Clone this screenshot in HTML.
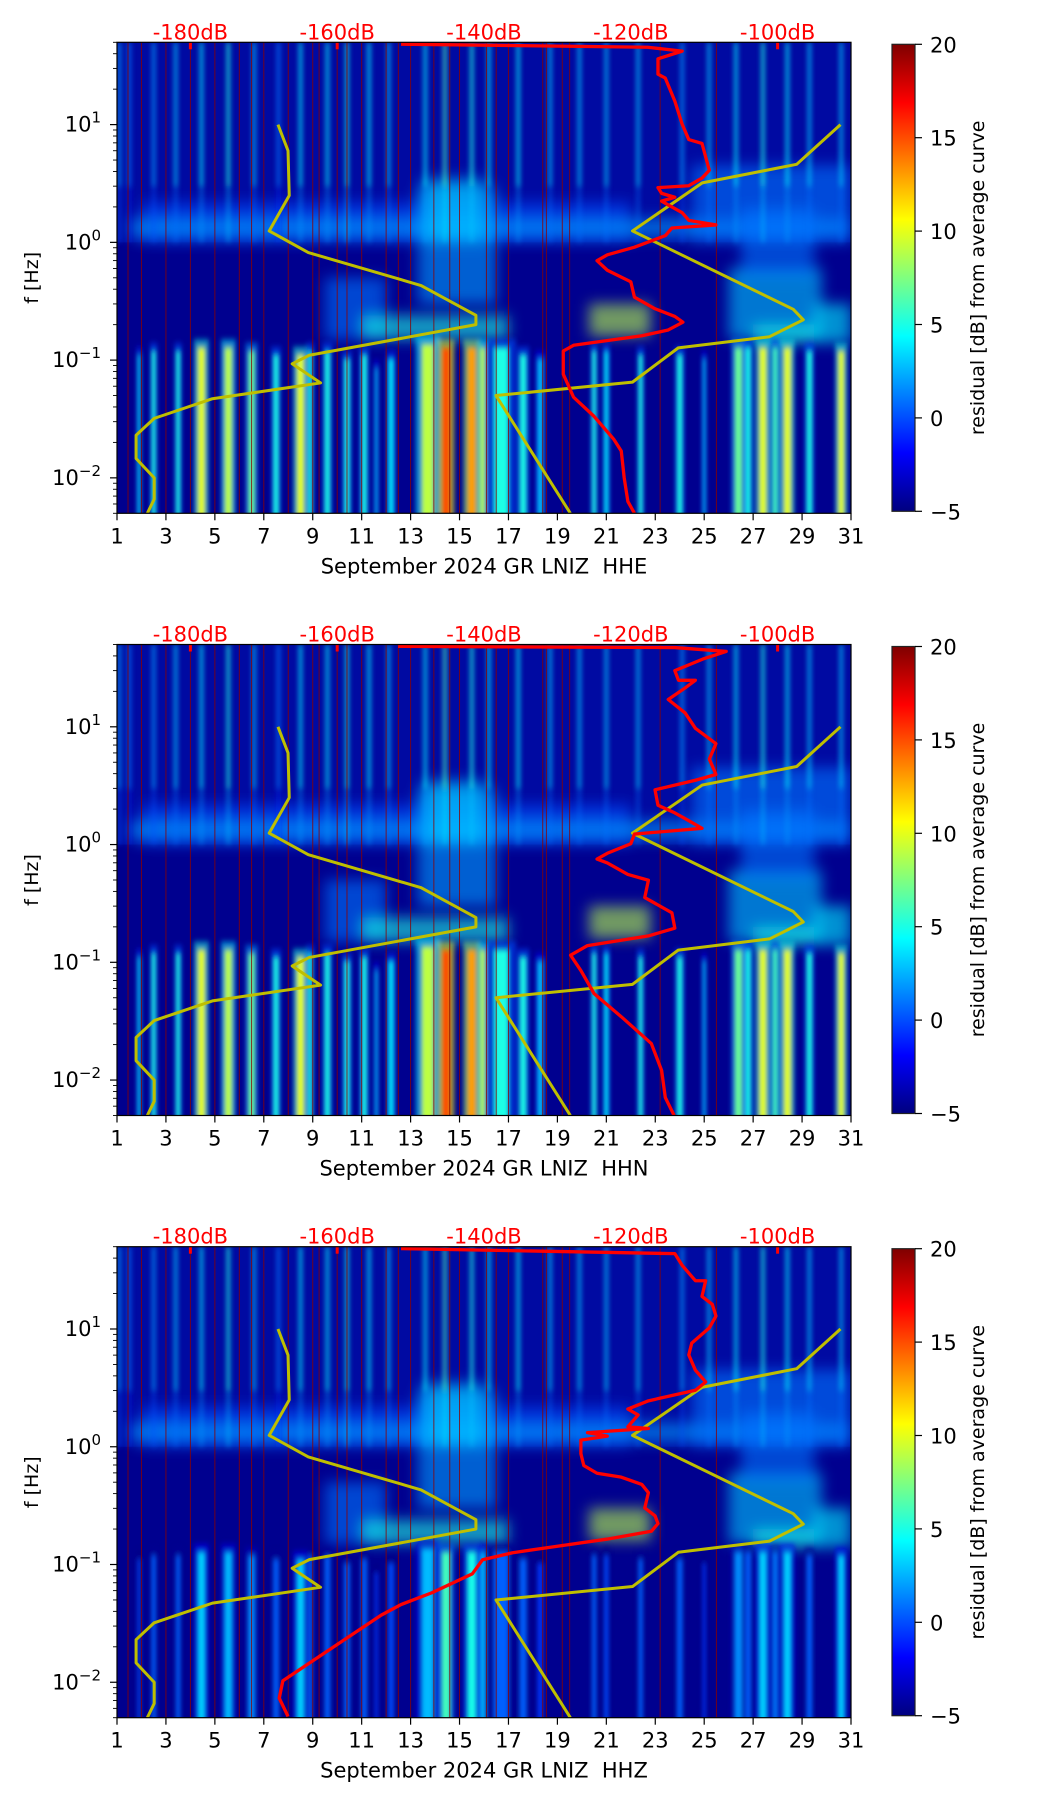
<!DOCTYPE html>
<html><head><meta charset="utf-8">
<style>
html,body{margin:0;padding:0;background:#fff;}
svg text{font-family:"DejaVu Sans","Liberation Sans",sans-serif;}
</style></head>
<body>
<svg id="fig" xmlns="http://www.w3.org/2000/svg" width="1052" height="1806" viewBox="0 0 1052 1806">
<defs>
<linearGradient id="jetg" x1="0" y1="1" x2="0" y2="0">
<stop offset="0" stop-color="#00007f"/><stop offset="0.125" stop-color="#0000ff"/>
<stop offset="0.375" stop-color="#00ffff"/><stop offset="0.625" stop-color="#ffff00"/>
<stop offset="0.875" stop-color="#ff0000"/><stop offset="1" stop-color="#7f0000"/>
</linearGradient>
<filter id="blurS" x="-50%" y="-5%" width="200%" height="110%"><feGaussianBlur stdDeviation="2 3"/></filter>
<filter id="blurB" x="-30%" y="-30%" width="160%" height="160%"><feGaussianBlur stdDeviation="7"/></filter>
</defs>
</svg>
<script>
// ---- data ----
const panelTitles = ["September 2024 GR LNIZ  HHE","September 2024 GR LNIZ  HHN","September 2024 GR LNIZ  HHZ"];
const dayTicks = [1,3,5,7,9,11,13,15,17,19,21,23,25,27,29,31];
const freqTickExp = [1,0,-1,-2];
const dbTicks = [-180,-160,-140,-120,-100];
const cbTicks = [20,15,10,5,0,-5];
const lowModelFreq = [10,6,2.5,1.25,0.82,0.43,0.24,0.2,0.11,0.093,0.064,0.047,0.032,0.023,0.0146,0.01,0.0066,0.005];
const lowModelDay  = [7.58,7.99,8.04,7.22,8.82,13.43,15.67,15.67,8.86,8.16,9.32,4.9,2.52,1.78,1.78,2.52,2.52,2.24];
const highModelFreq = [10,4.6,3.2,1.25,0.27,0.22,0.158,0.127,0.065,0.05,0.005];
const highModelDay  = [30.57,28.78,24.92,22.07,28.64,29.05,27.67,23.94,22.07,16.49,19.53];
const hheLogF = [1.683,1.657,1.624,1.559,1.428,1.395,1.199,1.003,0.873,0.84,0.612,0.546,0.481,0.465,0.416,0.383,0.35,0.318,0.252,0.187,0.148,0.122,0.057,-0.041,-0.106,-0.156,-0.237,-0.335,-0.466,-0.564,-0.629,-0.678,-0.744,-0.793,-0.874,-0.923,-1.119,-1.315,-1.478,-1.674,-1.772,-2.0,-2.2,-2.301];
const hheDb   = [-151.3,-117.7,-113,-116.3,-116.3,-115.3,-114,-113,-112.1,-110.3,-109.3,-110.3,-112.1,-116.3,-115.8,-114,-115.8,-114.9,-113,-112.1,-108.4,-114.4,-115.3,-119.5,-123.2,-124.6,-123.2,-120,-119.5,-116.7,-114,-112.9,-114.9,-118.5,-127.8,-129.2,-129.2,-127.8,-125,-122.3,-121.3,-120.9,-120.4,-119.5];
const hhnLogF = [1.683,1.673,1.64,1.575,1.477,1.395,1.395,1.33,1.232,1.118,0.987,0.857,0.726,0.595,0.546,0.465,0.334,0.269,0.203,0.138,0.089,0.007,-0.074,-0.123,-0.156,-0.254,-0.303,-0.45,-0.58,-0.71,-0.776,-0.858,-0.94,-1.07,-1.266,-1.462,-1.69,-1.919,-2.148,-2.301];
const hhnDb   = [-151.7,-114,-107,-110.2,-114,-113.5,-111.2,-112.6,-114.9,-112.6,-111.2,-108.4,-109.3,-108.4,-111.2,-116.7,-116.3,-114,-112.1,-110.3,-119.5,-120,-123.2,-124.6,-123.2,-120.4,-117.6,-118.1,-114.4,-114,-117.6,-125.9,-128.2,-126.8,-125,-121.3,-117.2,-115.8,-115.3,-114.1];
const hhzLogF = [1.683,1.64,1.54,1.41,1.41,1.277,1.21,1.11,1.01,0.88,0.78,0.65,0.55,0.48,0.39,0.32,0.27,0.17,0.155,0.12,0.09,0.056,-0.059,-0.16,-0.225,-0.258,-0.32,-0.39,-0.52,-0.586,-0.652,-0.718,-0.784,-0.85,-0.9,-0.96,-1.08,-1.24,-1.34,-1.43,-1.987,-2.135,-2.29];
const hhzDb   = [-151.3,-114,-113,-111.2,-109.8,-110.3,-108.9,-108.4,-109.3,-111.7,-112.1,-111.2,-109.8,-111.2,-117.6,-120.4,-119,-120.4,-117.6,-125.9,-123.2,-126.8,-126.8,-126.4,-124.6,-121.3,-118.5,-117.6,-118.1,-116.7,-116.3,-117.2,-123.2,-130.6,-136.1,-140.2,-141.6,-147.1,-151.3,-154,-167.4,-167.9,-166.7];
const lowStripeDay   = [1.9,2.5,3.5,4.45,5.55,6.5,7.5,8.5,8.9,9.6,10.4,11.1,11.6,12.2,13.7,14.45,15.5,15.95,16.7,17.6,18.3,20.5,21.0,22.4,24,25,26.4,26.8,27.4,27.9,28.4,29.3,30.6];
const lowStripeWidth = [0.1,0.15,0.15,0.3,0.3,0.25,0.2,0.3,0.15,0.2,0.2,0.2,0.1,0.2,0.5,0.35,0.35,0.2,0.6,0.25,0.2,0.15,0.15,0.15,0.2,0.1,0.3,0.2,0.3,0.2,0.3,0.2,0.25];
const lowStripeLevel = [4,5,5,10,9,7,5,10,5,5,5,5,3,4,9,15,13,9,5,5,3,5,4,5,5,3,7,5,10,6,10,5,10];
const lowStripeTop   = [0.13,0.14,0.14,0.15,0.15,0.14,0.13,0.13,0.14,0.14,0.12,0.13,0.1,0.12,0.16,0.15,0.15,0.15,0.15,0.13,0.12,0.14,0.14,0.13,0.13,0.12,0.15,0.15,0.15,0.15,0.15,0.14,0.14];
const lowStripeScale = [1.0,1.0,0.55];
const streakDay   = [1.1,1.5,2.5,3.4,4.45,5.55,6.6,7.6,8.5,9.6,10.4,11.3,12.1,13.6,14.4,15.5,16.2,17.4,18.7,19.9,21,22.3,24.1,25.2,26.3,27.4,28.4,29.3,30.6];
const streakLevel = [2,1,2,3,4,5,3,1,4,4,5,4,3,4,6,5,4,4,3,3,3,3,2,3,4,5,4,3,3];
const blobD0 = [2,13.3,20.3,26,9.5,11,1.5,24.5,13.5,26.5,27,29.5];
const blobD1 = [22,16.5,22.8,29.8,12,17,31,31,16,29.5,29.5,31];
const blobF0 = [1.0,0.3,0.16,0.15,0.15,0.15,1.1,1.0,1.0,0.5,0.14,0.14];
const blobF1 = [2.2,3.0,0.3,0.6,0.5,0.24,1.6,4.5,3.5,2.0,0.2,0.3];
const blobLv = [0,2,9,3,1,5,2,1,3,1,5,4];
const gapDays = [1.45,2,3,4,5,6,6.5,7,8,9,9.26,10,10.4,11,12,12.5,13,13.95,14.6,15,16.1,16.5,17,18.4,18.55,19.2,19.5,23.2,25.5];

const NS = "http://www.w3.org/2000/svg";
const svg = document.getElementById('fig');
function mk(tag, attrs, parent){ const e=document.createElementNS(NS,tag); for(const k in attrs) e.setAttribute(k,attrs[k]); (parent||svg).appendChild(e); return e; }
function jet(level){
  let t=(level+5)/25; t=Math.max(0,Math.min(1,t));
  const r=Math.max(0,Math.min(1,Math.min(4*t-1.5,-4*t+4.5)));
  const g=Math.max(0,Math.min(1,Math.min(4*t-0.5,-4*t+3.5)));
  const b=Math.max(0,Math.min(1,Math.min(4*t+0.5,-4*t+2.5)));
  return `rgb(${Math.round(r*255)},${Math.round(g*255)},${Math.round(b*255)})`;
}
const AX_L=117, AX_R=851, AX_H=471, LOGTOP=Math.log10(50), LOGBOT=Math.log10(0.005);
const tops=[42.3,644.5,1246.7];
function xDay(d){ return AX_L+(d-1)*(AX_R-AX_L)/30; }
function xDb(db){ return xDay(4+(db+180)*6/20); }

function panel(idx, logF, db){
  const top=tops[idx], bot=top+AX_H;
  const yLog=l=>top+(LOGTOP-l)/(LOGTOP-LOGBOT)*AX_H;
  const yF=f=>yLog(Math.log10(f));
  const g=mk('g',{});
  
  
  const cp=mk('clipPath',{id:'clip'+idx},g); mk('rect',{x:AX_L,y:top,width:AX_R-AX_L,height:AX_H},cp);
  const hm=mk('g',{'clip-path':`url(#clip${idx})`},g);
  
  
  mk('rect',{x:AX_L,y:top,width:AX_R-AX_L,height:AX_H,fill:'#00008f'},hm);
  mk('rect',{x:AX_L,y:yF(50),width:AX_R-AX_L,height:yF(1.0)-yF(50),fill:'#0020d0',opacity:0.3},hm);
  const bg=mk('g',{filter:'url(#blurB)'},hm);
  for(let i=0;i<blobD0.length;i++){
    const r=mk('rect',{x:xDay(blobD0[i]),y:yF(blobF1[i]),width:xDay(blobD1[i])-xDay(blobD0[i]),height:yF(blobF0[i])-yF(blobF1[i]),fill:jet(blobLv[i]),opacity:0.6},bg);
    
    
  }
  const sg=mk('g',{filter:'url(#blurS)'},hm);
  for(let i=0;i<streakDay.length;i++){
    const w=xDay(1.22)-xDay(1);
    const r=mk('rect',{x:xDay(streakDay[i])-w/2,y:yF(50),width:w,height:yF(3)-yF(50),fill:jet(streakLevel[i]),opacity:0.5},sg);
    
    
    const r2=mk('rect',{x:xDay(streakDay[i])-w/2,y:yF(3),width:w,height:yF(1)-yF(3),fill:jet(streakLevel[i]-2),opacity:0.3},sg);
    
    
  }
  const sc=lowStripeScale[idx];
  for(let i=0;i<lowStripeDay.length;i++){
    const w=xDay(1+lowStripeWidth[i])-xDay(1);
    const lv=-5+(lowStripeLevel[i]+5)*sc;
    const halo=mk('rect',{x:xDay(lowStripeDay[i])-w,y:yF(lowStripeTop[i]),width:w*2,height:bot-yF(lowStripeTop[i])+5,fill:jet(lv-5),opacity:0.55},sg);
    
    
    const r=mk('rect',{x:xDay(lowStripeDay[i])-w/2,y:yF(lowStripeTop[i])+8,width:w,height:bot-yF(lowStripeTop[i]),fill:jet(lv)},sg);
    
    
  }
  for(const d of gapDays){
    const l=mk('line',{x1:xDay(d),x2:xDay(d),y1:top,y2:bot,stroke:'#8b0000','stroke-width':1,opacity:0.8},hm);
    
    
  }
  for(const d of [4,10,28]){
    mk('rect',{x:xDay(d)-1.5,y:top,width:3,height:7,fill:'#ff0000'},hm);
  }
  for(const [fs,ds,nm] of [[lowModelFreq,lowModelDay,'low-noise-model-curve'],[highModelFreq,highModelDay,'high-noise-model-curve']]){
    const p=mk('polyline',{points:fs.map((f,i)=>xDay(ds[i])+','+yF(f)).join(' '),fill:'none',stroke:'#bfbf00','stroke-width':3,'stroke-linejoin':'round'},hm);
    
    
  }
  const rp=mk('polyline',{points:logF.map((l,i)=>xDb(db[i])+','+yLog(l)).join(' '),fill:'none',stroke:'#ff0000','stroke-width':3.3,'stroke-linejoin':'round'},hm);
  
  
  const fr=mk('rect',{x:AX_L,y:top,width:AX_R-AX_L,height:AX_H,fill:'none',stroke:'#000','stroke-width':1.2},g);
  
  
  for(const d of dayTicks){
    const x=xDay(d);
    mk('line',{x1:x,x2:x,y1:bot,y2:bot+7,stroke:'#000','stroke-width':1.2},g);
    const t=mk('text',{x:x,y:bot+30,'font-size':21,'text-anchor':'middle',fill:'#000'},g);
    t.textContent=d;
    
    
  }
  const xl=mk('text',{x:(AX_L+AX_R)/2,y:bot+60,'font-size':21,'text-anchor':'middle',fill:'#000',style:'white-space:pre'},g);
  xl.textContent=panelTitles[idx];
  
  
  for(let e=-3;e<=1;e++){
    for(let m=1;m<10;m++){
      const f=m*Math.pow(10,e); if(f<0.005||f>50) continue;
      const y=yF(f);
      mk('line',{x1:AX_L-(m===1?7:4),x2:AX_L,y1:y,y2:y,stroke:'#000','stroke-width':m===1?1.2:0.9},g);
    }
  }
  for(const e of freqTickExp){
    const y=yF(Math.pow(10,e));
    const t=mk('text',{x:101,y:y+7,'font-size':21,'text-anchor':'end',fill:'#000'},g);
    
    
    const a=mk('tspan',{},t); a.textContent='10';
    const b=mk('tspan',{dy:-9,'font-size':15},t); b.textContent=(e<0?'\u2212':'')+Math.abs(e);
  }
  const yl=mk('text',{x:0,y:0,'font-size':19,'text-anchor':'middle',transform:`translate(38,${top+AX_H/2}) rotate(-90)`,fill:'#000'},g);
  yl.textContent='f [Hz]';
  
  
  for(const v of dbTicks){
    const t=mk('text',{x:xDb(v),y:top-3,'font-size':21,'text-anchor':'middle',fill:'#ff0000'},g);
    t.textContent=v+'dB';
    
    
  }
  const cbT=top+2, cbB=top+469;
  const cb=mk('rect',{x:892,y:cbT,width:23,height:cbB-cbT,fill:'url(#jetg)',stroke:'#222','stroke-width':1.2},g);
  
  
  for(const v of cbTicks){
    const y=cbB-(v+5)/25*(cbB-cbT);
    mk('line',{x1:915,x2:922,y1:y,y2:y,stroke:'#000','stroke-width':1.2},g);
    const t=mk('text',{x:930,y:y+8,'font-size':21,fill:'#000'},g);
    t.textContent=v<0?'\u2212'+Math.abs(v):v;
    
    
  }
  const cl=mk('text',{x:0,y:0,'font-size':19,'text-anchor':'middle',transform:`translate(984,${(cbT+cbB)/2}) rotate(-90)`,fill:'#000'},g);
  cl.textContent='residual [dB] from average curve';
  
  
}
panel(0,hheLogF,hheDb);
panel(1,hhnLogF,hhnDb);
panel(2,hhzLogF,hhzDb);
</script>
</body></html>
